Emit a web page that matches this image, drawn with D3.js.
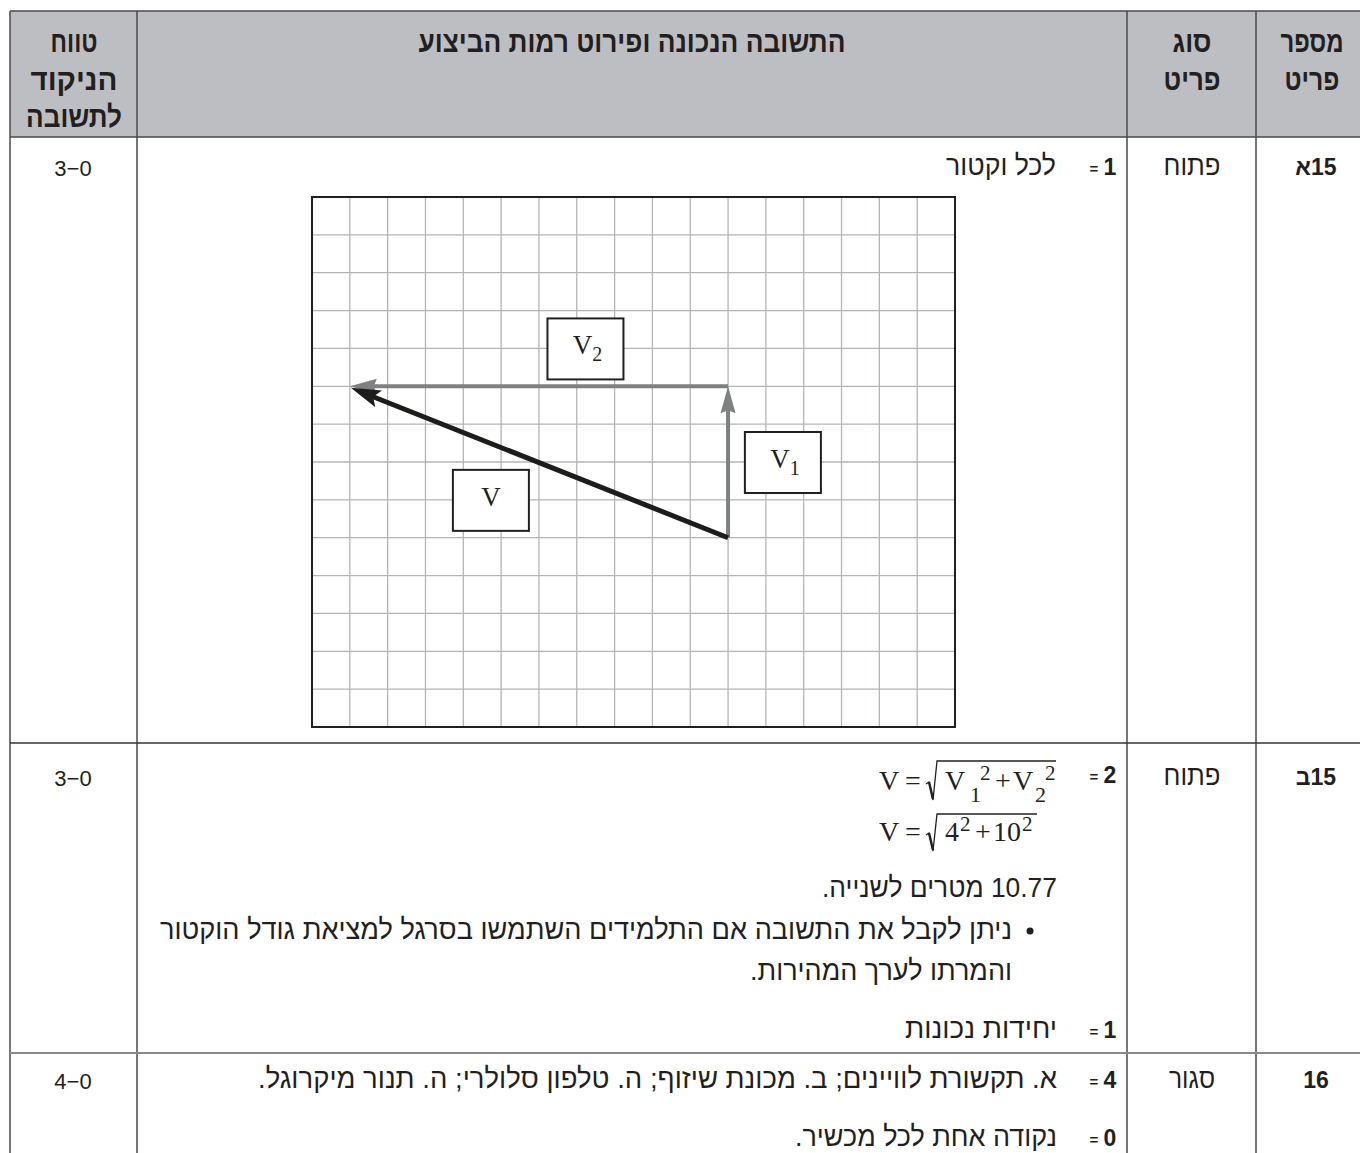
<!DOCTYPE html>
<html>
<head>
<meta charset="utf-8">
<script src="https://cdn.jsdelivr.net/npm/d3@7"></script>
<style>
  body { margin: 0; background: #fff; }
  svg text { font-family: "Liberation Sans", "DejaVu Sans", sans-serif; fill: #231f20; }
  .head { font-weight: bold; font-size: 30px; }
  .body { font-size: 28px; }
  .digits { font-size: 22px; }
  .num { font-weight: bold; font-size: 23px; }
  .math { font-family: "Liberation Serif", serif; font-size: 28px; }
</style>
</head>
<body>
<svg id="chart" width="1360" height="1153"></svg>
<script>
// table layout
var colEdges = [10, 137, 1127, 1256, 1362];
var rowEdges = [11, 137, 743, 1053, 1160];

// header texts (right-to-left columns)
var headScore = ["טווח", "הניקוד", "לתשובה"];
var headAnswer = ["התשובה הנכונה ופירוט רמות הביצוע"];
var headType = ["סוג", "פריט"];
var headItem = ["מספר", "פריט"];

// rows
var itemIds = ["15א", "15ב", "16"];
var itemTypes = ["פתוח", "פתוח", "סגור"];
var scoreRanges = ["3−0", "3−0", "4−0"];

// grid of the vector drawing
var gridCols = 17;
var gridRows = 14;

// vectors in grid units (y counted upward from the bottom)
var vecNames = ["V1", "V2", "V"];
var vecX0 = [11, 11, 11];
var vecY0 = [5, 9, 5];
var vecX1 = [11, 1, 1];
var vecY1 = [9, 9, 9];
var vecColor = ["#7f8082", "#7f8082", "#1d1d1b"];
var vecWidth = [4, 4, 5];

// label boxes
var labelMain = ["V", "V", "V"];
var labelSub = ["2", "1", ""];
var labelX = [7.23, 12.45, 4.73];
var labelY = [10.0, 7.0, 6.0];

var svg = d3.select("#chart");

// header background
svg.append("rect")
  .attr("x", colEdges[0]).attr("y", rowEdges[0])
  .attr("width", colEdges[4] - colEdges[0]).attr("height", rowEdges[1] - rowEdges[0])
  .attr("fill", "#bcbec1");

// table rules
var lines = svg.append("g");
colEdges.forEach(function(x) {
  lines.append("line").attr("x1", x).attr("x2", x)
    .attr("y1", rowEdges[0]).attr("y2", 1160)
    .attr("stroke", "#4a4a4a").attr("stroke-width", 1.5);
});
[["#4a4a4a", 1.5], ["#4a4a4a", 1.5], ["#333", 1.5], ["#8a8a8a", 2]].forEach(function(s, i) {
  lines.append("line").attr("x1", colEdges[0]).attr("x2", 1362)
    .attr("y1", rowEdges[i]).attr("y2", rowEdges[i])
    .attr("stroke", s[0]).attr("stroke-width", s[1]);
});

// header text, widths measured on the original
var headW = { score: [47, 87, 96], answer: [427], type: [39, 57], item: [63, 55] };
function headLines(arr, cx, w) {
  arr.forEach(function(t, i) {
    svg.append("text").attr("class", "head")
      .attr("x", cx).attr("y", 52 + i * 37.5)
      .attr("text-anchor", "middle").attr("direction", "rtl")
      .attr("textLength", w[i]).attr("lengthAdjust", "spacingAndGlyphs")
      .text(t);
  });
}
headLines(headScore, 74, headW.score);
headLines(headAnswer, 632, headW.answer);
headLines(headType, 1192, headW.type);
headLines(headItem, 1312, headW.item);

// row labels
var rowBase = [175, 785, 1088];
var typeW = [57, 57, 46];
rowBase.forEach(function(b, i) {
  svg.append("text").attr("class", "digits").attr("x", 73).attr("y", b + 1)
    .attr("text-anchor", "middle").text(scoreRanges[i]);
  svg.append("text").attr("class", "body").attr("x", 1192).attr("y", b)
    .attr("text-anchor", "middle").attr("direction", "rtl")
    .attr("textLength", typeW[i]).attr("lengthAdjust", "spacingAndGlyphs")
    .text(itemTypes[i]);
  svg.append("text").attr("class", "num").attr("x", 1316).attr("y", b)
    .attr("text-anchor", "middle").attr("direction", "rtl").text(itemIds[i]);
});

// score markers "=n"
function marker(n, base) {
  svg.append("text").attr("x", 1094).attr("y", base - 1)
    .attr("text-anchor", "middle").style("font-size", "15px").style("font-weight", "bold").text("=");
  svg.append("text").attr("class", "num").attr("x", 1110).attr("y", base)
    .attr("text-anchor", "middle").text(n);
}
function rtlText(t, x, base, w) {
  svg.append("text").attr("class", "body").attr("x", x).attr("y", base)
    .attr("direction", "rtl").attr("text-anchor", "start")
    .attr("textLength", w).attr("lengthAdjust", "spacingAndGlyphs")
    .text(t);
}

marker("1", 175);
rtlText("לכל וקטור", 1056, 175, 110);

marker("2", 783);
marker("1", 1038);
rtlText("10.77 מטרים לשנייה.", 1057, 897, 235);
svg.append("circle").attr("cx", 1030).attr("cy", 931).attr("r", 3.5).attr("fill", "#231f20");
rtlText("ניתן לקבל את התשובה אם התלמידים השתמשו בסרגל למציאת גודל הוקטור", 1012, 939, 852);
rtlText("והמרתו לערך המהירות.", 1012, 980, 262);
rtlText("יחידות נכונות", 1057, 1038, 152);

marker("4", 1088);
marker("0", 1146);
rtlText("א. תקשורת לוויינים; ב. מכונת שיזוף; ה. טלפון סלולרי; ה. תנור מיקרוגל.", 1057, 1088, 799);
rtlText("נקודה אחת לכל מכשיר.", 1057, 1146, 262);

// formulas
function mathText(g, t, x, y, size) {
  return g.append("text").attr("class", "math").attr("x", x).attr("y", y)
    .style("font-size", (size || 28) + "px").text(t);
}
function radical(g, x, base, top, x2) {
  g.append("path")
    .attr("d", "M" + x + "," + (base - 6) + " L" + (x + 3) + "," + (base - 8) +
      " L" + (x + 7) + "," + (base + 10) + " L" + (x + 11) + "," + top + " L" + x2 + "," + top)
    .attr("fill", "none").attr("stroke", "#231f20").attr("stroke-width", 1.3)
    .attr("stroke-linejoin", "miter");
  g.append("line").attr("x1", x + 3).attr("y1", base - 8).attr("x2", x + 7).attr("y2", base + 9)
    .attr("stroke", "#231f20").attr("stroke-width", 2.4);
}
var f = svg.append("g");
mathText(f, "V", 879, 790);
mathText(f, "=", 905, 790);
radical(f, 926, 790, 761, 1056);
mathText(f, "V", 945, 790);
mathText(f, "1", 970, 802, 22);
mathText(f, "2", 980, 780, 21);
mathText(f, "+", 995, 790);
mathText(f, "V", 1013, 790);
mathText(f, "2", 1035, 802, 22);
mathText(f, "2", 1045, 780, 21);

mathText(f, "V", 879, 841);
mathText(f, "=", 905, 841);
radical(f, 926, 841, 814, 1037);
mathText(f, "4", 945, 841);
mathText(f, "2", 960, 831, 21);
mathText(f, "+", 975, 841);
mathText(f, "10", 993, 841);
mathText(f, "2", 1022, 831, 21);

// vector drawing
var x = d3.scaleLinear().domain([0, gridCols]).range([312, 955]);
var y = d3.scaleLinear().domain([0, gridRows]).range([727, 197]);

var plot = svg.append("g");
plot.selectAll("line.gx").data(d3.range(1, gridCols)).enter().append("line")
  .attr("class", "gx")
  .attr("x1", d => x(d)).attr("x2", d => x(d))
  .attr("y1", y(0)).attr("y2", y(gridRows))
  .attr("stroke", "#b4b5b7").attr("stroke-width", 1.3);
plot.selectAll("line.gy").data(d3.range(1, gridRows)).enter().append("line")
  .attr("class", "gy")
  .attr("x1", x(0)).attr("x2", x(gridCols))
  .attr("y1", d => y(d)).attr("y2", d => y(d))
  .attr("stroke", "#b4b5b7").attr("stroke-width", 1.3);

plot.append("rect").attr("x", x(0)).attr("y", y(gridRows))
  .attr("width", x(gridCols) - x(0)).attr("height", y(0) - y(gridRows))
  .attr("fill", "none").attr("stroke", "#231f20").attr("stroke-width", 2);

// arrows
vecNames.forEach(function(n, i) {
  var ax = x(vecX0[i]), ay = y(vecY0[i]), bx = x(vecX1[i]), by = y(vecY1[i]);
  var dx = bx - ax, dy = by - ay, len = Math.sqrt(dx * dx + dy * dy);
  var ux = dx / len, uy = dy / len;
  var big = n === "V";
  var hl = big ? 30 : 27, hw = big ? 9 : 7.5, notch = 24;
  var tx = bx + (big ? 1 : 0), ty = by + (big ? 1.5 : 0);
  plot.append("line")
    .attr("x1", ax).attr("y1", ay)
    .attr("x2", tx - ux * (notch - 2)).attr("y2", ty - uy * (notch - 2))
    .attr("stroke", vecColor[i]).attr("stroke-width", vecWidth[i]);
  var px = -uy, py = ux;
  var pts = [
    [tx, ty],
    [tx - ux * hl + px * hw, ty - uy * hl + py * hw],
    [tx - ux * notch, ty - uy * notch],
    [tx - ux * hl - px * hw, ty - uy * hl - py * hw]
  ];
  plot.append("path").attr("d", "M" + pts.map(p => p.join(",")).join("L") + "Z")
    .attr("fill", vecColor[i]);
});

// label boxes
labelMain.forEach(function(t, i) {
  var cx = x(labelX[i]), cy = y(labelY[i]);
  plot.append("rect").attr("x", cx - 38).attr("y", cy - 30)
    .attr("width", 76).attr("height", 61)
    .attr("fill", "#fff").attr("stroke", "#231f20").attr("stroke-width", 2);
  var tx = plot.append("text").attr("class", "math")
    .attr("x", cx + (labelSub[i] ? 2 : 0)).attr("y", cy + 6)
    .attr("text-anchor", "middle").style("font-size", "27px");
  tx.append("tspan").text(t);
  if (labelSub[i]) {
    tx.append("tspan").attr("dy", 7).style("font-size", "20px").text(labelSub[i]);
  }
});
</script>
</body>
</html>
